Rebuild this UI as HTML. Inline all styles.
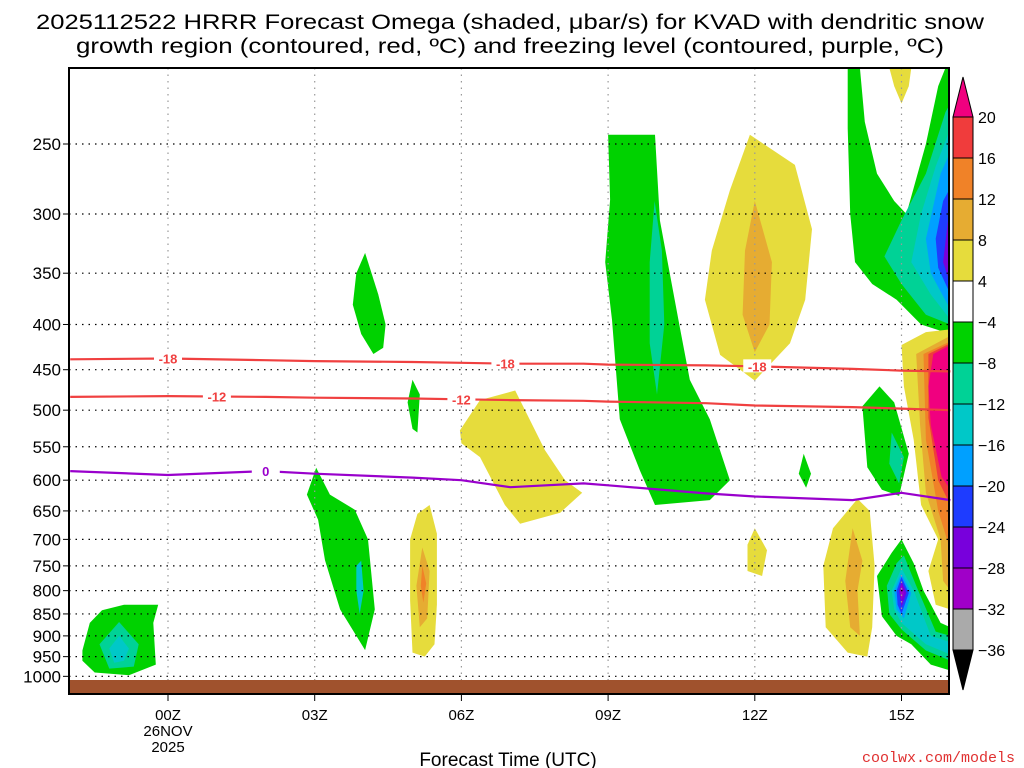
<!DOCTYPE html>
<html><head><meta charset="utf-8"><style>
html,body{margin:0;padding:0;background:#fff;}
svg{display:block;font-family:"Liberation Sans",sans-serif;}
</style></head><body>
<svg id="chart" width="1024" height="768" viewBox="0 0 1024 768" xmlns="http://www.w3.org/2000/svg">
<g id="title" font-size="21" fill="#000">
<text x="510" y="29" text-anchor="middle" textLength="948" lengthAdjust="spacingAndGlyphs">2025112522 HRRR Forecast Omega (shaded, μbar/s) for KVAD with dendritic snow</text>
<text x="510" y="53" text-anchor="middle" textLength="868" lengthAdjust="spacingAndGlyphs">growth region (contoured, red, ºC) and freezing level (contoured, purple, ºC)</text>
</g>
<g id="fills"></g>
<g id="grid"></g>
<g id="lines"></g>
<rect x="69" y="680" width="880" height="14" fill="#a0522d"/>
<rect x="69" y="68" width="880" height="626" fill="none" stroke="#000" stroke-width="2"/>
<g id="yaxis" font-size="17" fill="#000"></g>
<g id="xaxis" font-size="15" fill="#000"></g>
<text x="508" y="766" text-anchor="middle" font-size="19">Forecast Time (UTC)</text>
<text x="1015" y="762" text-anchor="end" font-size="15" fill="#e03030" font-family="Liberation Mono, monospace">coolwx.com/models</text>
<g id="cbar"></g>
</svg>
<script>
const pressureTicks=[250,300,350,400,450,500,550,600,650,700,750,800,850,900,950,1000];
const hourTicks=[0,3,6,9,12,15];
const hourTickLabels=["00Z","03Z","06Z","09Z","12Z","15Z"];
const cbarLevels=[20,16,12,8,4,-4,-8,-12,-16,-20,-24,-28,-32,-36];
const cbarColors=["#f03c3c","#f08228","#e6ac32","#e6dc3c","#ffffff","#00d200","#00d296","#00c8c8","#00a0ff","#1e3cff","#7800dc","#a000c8","#aaaaaa"];
const lineHours=[-2,0,2,3,5,6,7,8.5,9,11,12,14,15,16];
const dgz18=[438,437,439,440,441,442,443,443,444,445,446,449,451,452];
const dgz12=[483,482,483,484,485,486,487,488,489,491,494,496,498,500];
const frz0=[586,592,586,590,596,600,611,605,608,621,626,632,620,632];
const blobs=[
["#00d200",[[-1.75,935],[-1.6,870],[-1.35,842],[-0.9,830],[-0.2,830],[-0.3,870],[-0.25,970],[-0.8,997],[-1.5,990],[-1.75,960]]],
["#00d296",[[-1.4,920],[-1.0,868],[-0.6,920],[-0.7,975],[-1.2,980]]],
["#00c8c8",[[-1.2,930],[-1.0,900],[-0.8,930],[-0.9,960],[-1.1,965]]],
["#00d200",[[2.84,623],[3.03,581],[3.31,623],[3.82,648],[4.09,700],[4.23,840],[4.03,934],[3.52,840],[3.21,739],[3.07,665]]],
["#00c8c8",[[3.85,750],[3.95,740],[4.0,800],[3.92,850],[3.85,800]]],
["#00d200",[[4.03,332],[4.3,370],[4.45,400],[4.4,425],[4.2,432],[3.95,410],[3.78,380],[3.85,350]]],
["#00d200",[[5.0,462],[5.15,480],[5.1,530],[5.0,525],[4.9,490]]],
["#e6dc3c",[[5.1,655],[5.35,640],[5.5,690],[5.5,830],[5.45,920],[5.25,950],[5.0,940],[4.95,820],[4.95,700]]],
["#e6ac32",[[5.2,715],[5.35,760],[5.3,860],[5.15,880],[5.08,790]]],
["#f08228",[[5.2,750],[5.28,785],[5.22,825],[5.17,790]]],
["#e6dc3c",[[5.97,527],[6.38,487],[7.1,475],[7.71,555],[8.12,600],[8.47,620],[8.02,653],[7.2,672],[6.89,640],[6.38,565],[6.0,545]]],
["#00d200",[[9.0,244],[9.96,244],[10.06,305],[10.47,404],[10.67,462],[11.08,512],[11.49,600],[11.08,632],[9.96,640],[9.65,585],[9.24,512],[9.08,395],[8.94,340],[9.04,289]]],
["#00d296",[[9.95,290],[10.1,330],[10.15,400],[10.0,480],[9.85,420],[9.85,340]]],
["#e6dc3c",[[11.9,244],[12.82,264],[13.17,312],[13.03,375],[12.72,420],[12.0,463],[11.29,433],[10.98,375],[11.12,330],[11.49,282]]],
["#e6ac32",[[12.0,290],[12.35,340],[12.3,400],[12.0,430],[11.75,390],[11.8,330]]],
["#e6dc3c",[[12.0,680],[12.25,720],[12.15,770],[11.85,760],[11.85,710]]],
["#00d200",[[13.0,560],[13.15,590],[13.05,612],[12.9,590]]],
["#e6dc3c",[[14.1,630],[14.35,650],[14.45,750],[14.4,880],[14.3,950],[13.9,940],[13.45,880],[13.4,750],[13.6,680]]],
["#e6ac32",[[14.0,680],[14.2,740],[14.1,800],[14.15,900],[13.95,880],[13.85,780]]],
["#00d200",[[13.9,205],[14.15,205],[14.25,236],[14.5,270],[14.85,290],[15.1,300],[15.5,250],[15.75,215],[15.9,205],[16,205],[16,410],[15.4,400],[14.9,375],[14.4,360],[14.05,340],[13.95,300],[13.9,240]]],
["#00d296",[[15.5,270],[15.9,230],[16,225],[16,400],[15.5,390],[15.0,360],[14.65,335],[15.0,305]]],
["#00c8c8",[[15.7,265],[16,240],[16,395],[15.6,370],[15.2,340],[15.4,300]]],
["#00a0ff",[[15.8,270],[16,255],[16,385],[15.6,350],[15.5,320]]],
["#1e3cff",[[15.85,290],[16,280],[16,370],[15.75,345],[15.7,320]]],
["#7800dc",[[15.95,305],[16,300],[16,360],[15.85,340]]],
["#e6dc3c",[[14.75,205],[15.2,205],[15.15,215],[15.0,225],[14.85,215]]],
["#e6dc3c",[[15.0,422],[15.5,408],[16,405],[16,840],[15.7,830],[15.55,760],[15.75,700],[15.4,640],[15.25,540],[15.05,470]]],
["#e6ac32",[[15.3,432],[16,412],[16,800],[15.85,780],[15.8,700],[15.5,620],[15.38,520]]],
["#f08228",[[15.45,432],[16,418],[16,720],[15.75,650],[15.5,540]]],
["#f03c3c",[[15.55,432],[16,420],[16,640],[15.75,600],[15.55,510]]],
["#f0007f",[[15.65,432],[16,422],[16,615],[15.82,595],[15.6,520],[15.55,470]]],
["#00d200",[[14.2,495],[14.55,470],[14.85,490],[15.15,560],[14.95,625],[14.6,615],[14.3,580]]],
["#00d296",[[14.8,530],[15.05,565],[14.95,605],[14.75,575]]],
["#00d200",[[14.5,770],[14.8,725],[15.0,700],[15.25,745],[15.45,800],[15.8,870],[16,880],[16,985],[15.6,970],[15.2,920],[14.9,900],[14.6,855]]],
["#00d296",[[14.7,790],[14.9,745],[15.05,730],[15.3,790],[15.7,890],[16,900],[16,960],[15.5,935],[15.0,885],[14.75,850]]],
["#00c8c8",[[14.8,800],[15.0,755],[15.25,800],[15.6,900],[16,915],[16,945],[15.5,920],[15.0,870],[14.85,840]]],
["#00a0ff",[[14.85,800],[15.0,765],[15.2,805],[15.05,860],[14.9,840]]],
["#1e3cff",[[14.9,800],[15.0,772],[15.15,805],[15.0,850],[14.92,830]]],
["#7800dc",[[14.95,800],[15.0,780],[15.1,805],[15.0,835]]],
["#a000c8",[[14.97,800],[15.0,788],[15.05,805],[15.0,820]]]
];
const contourLabels=[["-18",dgz18,0],["-18",dgz18,6.9],["-18",dgz18,12.05],["-12",dgz12,1.0],["-12",dgz12,6.0],["0",frz0,2.0]];

const X0=168,XS=48.9,Y0=144,YS=384;
function xh(h){return X0+XS*h;}
function yp(p){return Y0+YS*Math.log(p/250);}
function interp(arr,h){for(let i=0;i<lineHours.length-1;i++){if(h>=lineHours[i]&&h<=lineHours[i+1]){const t=(h-lineHours[i])/(lineHours[i+1]-lineHours[i]);return arr[i]+t*(arr[i+1]-arr[i]);}}return arr[arr.length-1];}
const NS="http://www.w3.org/2000/svg";
function mk(tag,attrs,parent){const e=document.createElementNS(NS,tag);for(const k in attrs)e.setAttribute(k,attrs[k]);parent.appendChild(e);return e;}
const fills=document.getElementById('fills');
const cp=mk('clipPath',{id:'pc'},fills);
mk('rect',{x:69,y:68,width:880,height:612},cp);
blobs.forEach((b,i)=>{
 const pts=b[1].map(q=>xh(q[0]).toFixed(1)+","+yp(q[1]).toFixed(1)).join(" ");
 const el=mk('polygon',{points:pts,fill:b[0],'stroke-linejoin':'round','clip-path':'url(#pc)'},fills);
 
 
});
const grid=document.getElementById('grid');
pressureTicks.forEach(p=>{
 const el=mk('line',{x1:69,x2:949,y1:yp(p),y2:yp(p),stroke:'#000','stroke-width':1.2,'stroke-dasharray':'1.5 5'},grid);
 
 
});
hourTicks.forEach(h=>{
 const el=mk('line',{x1:xh(h),x2:xh(h),y1:68,y2:694,stroke:'#999','stroke-width':1.2,'stroke-dasharray':'1.5 5'},grid);
 
 
});
const lines=document.getElementById('lines');
[[dgz18,'#f04040','dgz-minus18-line'],[dgz12,'#f04040','dgz-minus12-line'],[frz0,'#9900cc','freezing-level-line']].forEach(L=>{
 const d=lineHours.map((h,i)=>(i?'L':'M')+xh(Math.max(h,-2.03)).toFixed(1)+','+yp(L[0][i]).toFixed(1)).join(' ');
 const el=mk('path',{d:d,fill:'none',stroke:L[1],'stroke-width':2.2},lines);
 
 
});
contourLabels.forEach(c=>{
 const x=xh(c[2]),y=yp(interp(c[1],c[2]));
 const col=c[0]==="0"?'#9900cc':'#f04040';
 mk('rect',{x:x-14,y:y-7,width:28,height:13,fill:'#fff'},lines);
 const t=mk('text',{x:x,y:y+5,'text-anchor':'middle','font-size':13,'font-weight':'bold',fill:col},lines);
 t.textContent=c[0];
 
 
});
const ya=document.getElementById('yaxis');
pressureTicks.forEach(p=>{
 const t=mk('text',{x:61,y:yp(p)+6,'text-anchor':'end'},ya);
 t.textContent=p;
 
 
 mk('line',{x1:63,x2:69,y1:yp(p),y2:yp(p),stroke:'#000'},ya);
});
const xa=document.getElementById('xaxis');
hourTicks.forEach((h,i)=>{
 mk('line',{x1:xh(h),x2:xh(h),y1:694,y2:701,stroke:'#000'},xa);
 const t=mk('text',{x:xh(h),y:720,'text-anchor':'middle'},xa);
 t.textContent=hourTickLabels[i];
 
 
});
[["26NOV",736],["2025",752]].forEach(a=>{
 const t=mk('text',{x:xh(0),y:a[1],'text-anchor':'middle'},xa);
 t.textContent=a[0];
 
 
});
const cb=document.getElementById('cbar');
const CX=953,CW=20,CT=117,CH=41;
mk('polygon',{points:`${CX},${CT} ${CX+CW},${CT} ${CX+CW/2},${CT-40}`,fill:'#f0007f',stroke:'#000'},cb);
cbarColors.forEach((c,i)=>{
 const r=mk('rect',{x:CX,y:CT+i*CH,width:CW,height:CH,fill:c,stroke:'#000'},cb);
 
 
});
const bot=CT+cbarColors.length*CH;
mk('polygon',{points:`${CX},${bot} ${CX+CW},${bot} ${CX+CW/2},${bot+40}`,fill:'#000',stroke:'#000'},cb);
cbarLevels.forEach((v,i)=>{
 const t=mk('text',{x:978,y:CT+i*CH+6,'font-size':16},cb);
 t.textContent=v<0?'\u2212'+(-v):String(v);
 
 
});
</script>
</body></html>
